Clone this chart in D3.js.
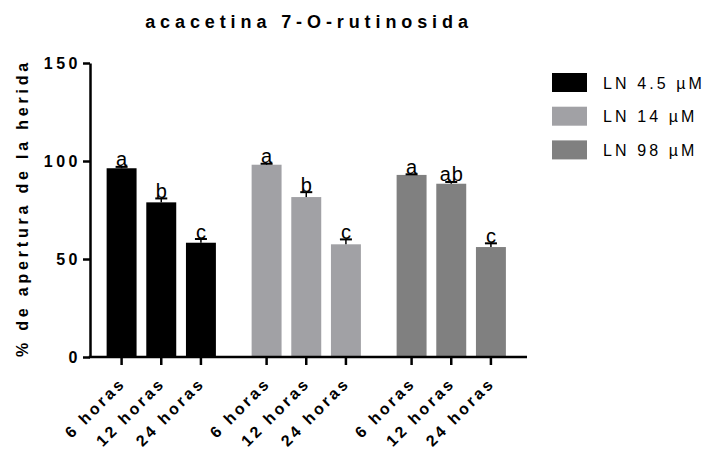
<!DOCTYPE html>
<html>
<head>
<meta charset="utf-8">
<script src="https://cdn.jsdelivr.net/npm/d3@7"></script>
<style>
  body { margin: 0; background: #fff; }
  text { font-family: "Liberation Sans", Arial, sans-serif; }
</style>
</head>
<body>
<script>
const groups = ["LN 4.5 µM", "LN 14 µM", "LN 98 µM"];
const times = ["6 horas", "12 horas", "24 horas"];
const means = [[96.3, 78.9, 58.3], [98.1, 81.6, 57.5], [92.9, 88.4, 56.1]];
const errs = [[0.7, 2.0, 1.9], [0.5, 2.5, 2.5], [0.3, 0.9, 1.9]];
const letters = [["a", "b", "c"], ["a", "b", "c"], ["a", "ab", "c"]];
const colors = ["#000000", "#a1a1a5", "#808080"];
const yTicks = [0, 50, 100, 150];

const width = 707;
const height = 449;

var svg = d3.select("body").append("svg")
  .attr("width", width)
  .attr("height", height);

var yscale = d3.scaleLinear()
  .domain([0, 150])
  .range([357, 63]);

var xgroup = d3.scaleBand()
  .domain(groups)
  .range([90, 527])
  .paddingInner(0.1793)
  .paddingOuter(0.0966)
  .align(0.42);

var xbar = d3.scaleBand()
  .domain(times)
  .range([0, xgroup.bandwidth()])
  .paddingInner(0.245)
  .paddingOuter(0.1225);

// flatten for drawing
var rows = [];
groups.forEach((g, i) => {
  times.forEach((t, j) => {
    rows.push({group: g, time: t, v: means[i][j], e: errs[i][j], l: letters[i][j], c: colors[i]});
  });
});
const cx = d => xgroup(d.group) + xbar(d.time) + xbar.bandwidth() / 2;

svg.selectAll("rect.bar")
  .data(rows)
  .enter()
  .append("rect")
  .attr("class", "bar")
  .attr("x", d => xgroup(d.group) + xbar(d.time))
  .attr("y", d => yscale(d.v))
  .attr("width", xbar.bandwidth())
  .attr("height", d => yscale(0) - yscale(d.v))
  .attr("fill", d => d.c);

// error bars (upper only)
svg.selectAll("line.err")
  .data(rows)
  .enter()
  .append("line")
  .attr("x1", cx).attr("x2", cx)
  .attr("y1", d => yscale(d.v))
  .attr("y2", d => yscale(d.v + d.e))
  .attr("stroke", "#000")
  .attr("stroke-width", 1.5);

svg.selectAll("line.cap")
  .data(rows)
  .enter()
  .append("line")
  .attr("x1", d => cx(d) - 6).attr("x2", d => cx(d) + 6)
  .attr("y1", d => yscale(d.v + d.e))
  .attr("y2", d => yscale(d.v + d.e))
  .attr("stroke", "#000")
  .attr("stroke-width", 2);

// significance letters
svg.selectAll("text.sig")
  .data(rows)
  .enter()
  .append("text")
  .attr("x", d => cx(d) + 0.5)
  .attr("y", d => yscale(d.v + d.e) - 0.5)
  .attr("text-anchor", "middle")
  .attr("font-size", "20px")
  .attr("letter-spacing", "1px")
  .attr("fill", "#000")
  .text(d => d.l);

// y axis
var yaxis = d3.axisLeft(yscale)
  .tickValues(yTicks)
  .tickSize(7)
  .tickSizeOuter(0)
  .tickPadding(8);

var gy = svg.append("g")
  .attr("transform", "translate(90, 0)")
  .call(yaxis);
gy.select(".domain").attr("stroke-width", 2.5);
gy.selectAll(".tick line").attr("stroke-width", 2.5);
gy.selectAll(".tick text")
  .attr("font-size", "16px")
  .attr("font-weight", "bold")
  .attr("letter-spacing", "3.5px")
  .attr("font-family", "Liberation Sans, Arial, sans-serif")
  .attr("dy", "0.36em")
  .attr("x", -9);

// x axis: baseline plus ticks per group
svg.append("line")
  .attr("x1", xgroup.range()[0] - 1.25)
  .attr("x2", xgroup.range()[1])
  .attr("y1", yscale(0))
  .attr("y2", yscale(0))
  .attr("stroke", "#000")
  .attr("stroke-width", 2.5);

groups.forEach(g => {
  var gx = svg.append("g")
    .attr("transform", `translate(${xgroup(g)}, ${yscale(0)})`)
    .call(d3.axisBottom(xbar).tickSize(8).tickSizeOuter(0));
  gx.select(".domain").remove();
  gx.selectAll(".tick line").attr("stroke-width", 2.5);
  gx.selectAll(".tick text")
    .attr("font-size", "16px")
    .attr("font-weight", "bold")
    .attr("letter-spacing", "3px")
    .attr("font-family", "Liberation Sans, Arial, sans-serif")
    .attr("text-anchor", "end")
    .attr("dy", null)
    .attr("y", 0)
    .attr("transform", "translate(5, 27) rotate(-45)");
});

// y label
svg.append("text")
  .attr("transform", "rotate(-90)")
  .attr("x", -(yscale(0) + yscale(150)) / 2 + 2)
  .attr("y", 28)
  .attr("text-anchor", "middle")
  .attr("font-size", "16px")
  .attr("font-weight", "bold")
  .attr("letter-spacing", "3.8px")
  .text("% de apertura de la herida");

// title
svg.append("text")
  .attr("x", 309)
  .attr("y", 28)
  .attr("text-anchor", "middle")
  .attr("font-size", "18px")
  .attr("font-weight", "bold")
  .attr("letter-spacing", "4.9px")
  .text("acacetina 7-O-rutinosida");

// legend
var leg = svg.selectAll("g.leg")
  .data(groups)
  .enter()
  .append("g")
  .attr("transform", (d, i) => `translate(552, ${73 + i * 33.7})`);

leg.append("rect")
  .attr("width", 35)
  .attr("height", 19)
  .attr("fill", (d, i) => colors[i]);

leg.append("text")
  .attr("x", 51)
  .attr("y", 15.5)
  .attr("font-size", "16px")
  .attr("letter-spacing", "3.1px")
  .attr("fill", "#000")
  .text(d => d);
</script>
</body>
</html>
